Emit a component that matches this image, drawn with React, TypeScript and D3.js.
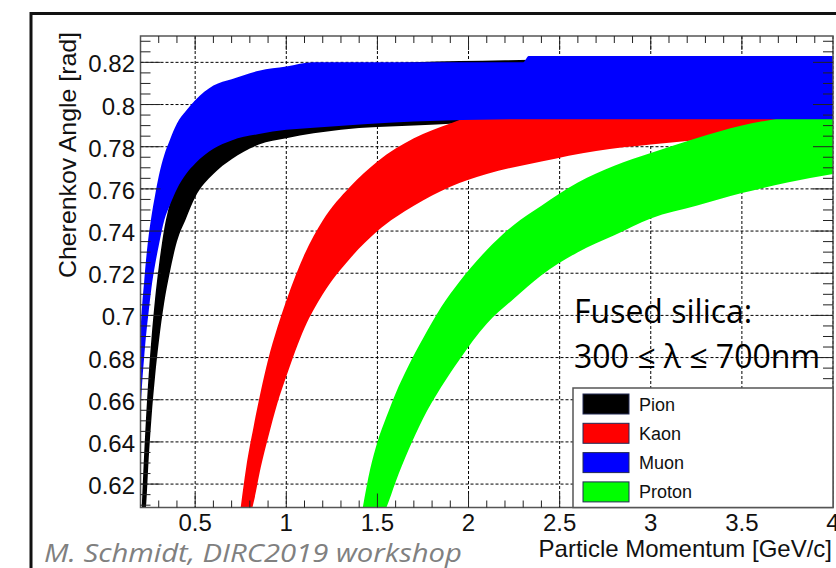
import React, { useEffect, useRef } from "react";
import * as d3 from "d3";

// momentum (GeV/c) and upper / lower edge of the Cherenkov angle band (rad)
const pionP = [0.207, 0.215, 0.23, 0.245, 0.26, 0.28, 0.3, 0.33, 0.36, 0.4, 0.45, 0.5, 0.6, 0.7, 0.85, 1.0, 1.3, 1.7, 2.2, 3.0, 4.0];
const pionHi = [0.609, 0.625, 0.651, 0.672, 0.689, 0.708, 0.723, 0.741, 0.753, 0.767, 0.778, 0.786, 0.798, 0.805, 0.811, 0.814, 0.818, 0.82, 0.821, 0.822, 0.822];
const pionLo = [0.6, 0.6, 0.609, 0.632, 0.651, 0.671, 0.687, 0.706, 0.72, 0.735, 0.746, 0.756, 0.767, 0.774, 0.781, 0.784, 0.788, 0.79, 0.792, 0.793, 0.793];

const muonP = [0.2, 0.21, 0.22, 0.23, 0.245, 0.26, 0.28, 0.3, 0.33, 0.36, 0.4, 0.45, 0.5, 0.6, 0.7, 0.85, 1.0, 1.15, 1.7, 2.3, 2.33, 3.0, 4.0];
const muonHi = [0.693, 0.706, 0.716, 0.726, 0.738, 0.747, 0.757, 0.766, 0.776, 0.783, 0.791, 0.797, 0.802, 0.809, 0.812, 0.816, 0.818, 0.82, 0.82, 0.82, 0.823, 0.823, 0.823];
const muonLo = [0.655, 0.669, 0.68, 0.69, 0.702, 0.713, 0.724, 0.733, 0.745, 0.752, 0.76, 0.767, 0.772, 0.779, 0.783, 0.786, 0.788, 0.789, 0.792, 0.793, 0.793, 0.793, 0.793];

const kaonP = [0.75, 0.78, 0.82, 0.86, 0.9, 0.95, 1.0, 1.1, 1.2, 1.35, 1.5, 1.7, 1.9, 2.1, 2.4, 2.7, 3.0, 3.4, 3.7, 4.0];
const kaonHi = [0.609, 0.628, 0.647, 0.664, 0.679, 0.694, 0.707, 0.729, 0.745, 0.761, 0.773, 0.784, 0.791, 0.797, 0.803, 0.808, 0.811, 0.813, 0.815, 0.816];
const kaonLo = [0.6, 0.6, 0.611, 0.628, 0.642, 0.658, 0.671, 0.694, 0.71, 0.727, 0.74, 0.752, 0.761, 0.767, 0.773, 0.778, 0.781, 0.784, 0.785, 0.787];

const protonP = [1.42, 1.46, 1.5, 1.55, 1.6, 1.67, 1.75, 1.85, 1.95, 2.1, 2.25, 2.4, 2.6, 2.8, 3.0, 3.25, 3.5, 3.75, 4.0];
const protonHi = [0.609, 0.627, 0.64, 0.652, 0.663, 0.676, 0.689, 0.704, 0.716, 0.731, 0.743, 0.752, 0.763, 0.771, 0.777, 0.784, 0.79, 0.794, 0.797];
const protonLo = [0.6, 0.6, 0.6, 0.609, 0.621, 0.636, 0.651, 0.666, 0.679, 0.696, 0.708, 0.719, 0.73, 0.738, 0.746, 0.752, 0.758, 0.763, 0.767];

const legendNames = ["Pion", "Kaon", "Muon", "Proton"];
const legendColors = ["#000000", "#ff0000", "#0000ff", "#00ff00"];

const xTicks = [0.5, 1, 1.5, 2, 2.5, 3, 3.5, 4];
const xTickLabels = ["0.5", "1", "1.5", "2", "2.5", "3", "3.5", "4"];
const yTicks = [0.62, 0.64, 0.66, 0.68, 0.7, 0.72, 0.74, 0.76, 0.78, 0.8, 0.82];
const yTickLabels = ["0.62", "0.64", "0.66", "0.68", "0.7", "0.72", "0.74", "0.76", "0.78", "0.8", "0.82"];

const W = 836;
const H = 568;
const ROOT_FONT = "'Liberation Sans', Arial, Helvetica, sans-serif";

const App: React.FC = () => {
  const svgRef = useRef<SVGSVGElement>(null);

  useEffect(() => {
    if (!svgRef.current) return;
    const svg = d3.select(svgRef.current);
    svg.selectAll("*").remove();

    const left = 140.5;
    const right = 833;
    const top = 36;
    const bottom = 507.5;

    const x = d3.scaleLinear().domain([0.2, 4]).range([left, right]);
    const y = d3.scaleLinear().domain([0.6089, 0.8325]).range([bottom, top]);

    svg.append("rect").attr("width", W).attr("height", H).attr("fill", "#fff");

    // slide frame
    svg
      .append("rect")
      .attr("x", 31)
      .attr("y", 13.5)
      .attr("width", 840)
      .attr("height", 600)
      .attr("fill", "none")
      .attr("stroke", "#111")
      .attr("stroke-width", 3);

    svg
      .append("clipPath")
      .attr("id", "plot-clip")
      .append("rect")
      .attr("x", left)
      .attr("y", top)
      .attr("width", right - left)
      .attr("height", bottom - top);

    // grid
    const grid = svg.append("g").attr("stroke", "#000").attr("stroke-width", 1).attr("stroke-dasharray", "3,2");
    xTicks.forEach((t) => {
      grid.append("line").attr("x1", x(t)).attr("x2", x(t)).attr("y1", top).attr("y2", bottom);
    });
    yTicks.forEach((t) => {
      grid.append("line").attr("x1", left).attr("x2", right).attr("y1", y(t)).attr("y2", y(t));
    });

    // bands
    const bands = svg.append("g").attr("clip-path", "url(#plot-clip)");
    const drawBand = (p: number[], hi: number[], lo: number[], color: string) => {
      const area = d3
        .area<number>()
        .x((i) => x(p[i]))
        .y0((i) => y(lo[i]))
        .y1((i) => y(hi[i]))
        .curve(d3.curveMonotoneX);
      bands.append("path").attr("d", area(d3.range(p.length)) || "").attr("fill", color);
    };
    drawBand(pionP, pionHi, pionLo, "#000000");
    drawBand(kaonP, kaonHi, kaonLo, "#ff0000");
    drawBand(protonP, protonHi, protonLo, "#00ff00");
    drawBand(muonP, muonHi, muonLo, "#0000ff");

    // frame
    svg
      .append("rect")
      .attr("x", left)
      .attr("y", top)
      .attr("width", right - left)
      .attr("height", bottom - top)
      .attr("fill", "none")
      .attr("stroke", "#555")
      .attr("stroke-width", 1.5);

    // ticks
    const ticks = svg.append("g").attr("stroke", "#222").attr("stroke-width", 1);
    d3.range(3, 40).forEach((k) => {
      const v = k / 10;
      const major = k % 5 === 0;
      const len = major ? 14 : 7;
      ticks.append("line").attr("x1", x(v)).attr("x2", x(v)).attr("y1", bottom).attr("y2", bottom - len);
      ticks.append("line").attr("x1", x(v)).attr("x2", x(v)).attr("y1", top).attr("y2", top + len);
    });
    d3.range(122, 167).forEach((k) => {
      const v = k / 200;
      if (v > 0.8325) return;
      const major = k % 4 === 0;
      const len = major ? 20 : 10;
      ticks.append("line").attr("x1", left).attr("x2", left + len).attr("y1", y(v)).attr("y2", y(v));
      ticks.append("line").attr("x1", right).attr("x2", right - len).attr("y1", y(v)).attr("y2", y(v));
    });

    // tick labels
    const labels = svg.append("g").style("font-family", ROOT_FONT).style("font-size", "24px").attr("fill", "#111");
    xTicks.forEach((t, i) => {
      labels
        .append("text")
        .attr("x", x(t))
        .attr("y", 531)
        .attr("text-anchor", i === xTicks.length - 1 ? "middle" : "middle")
        .text(xTickLabels[i]);
    });
    yTicks.forEach((t, i) => {
      labels
        .append("text")
        .attr("x", 135)
        .attr("y", y(t) + 10)
        .attr("text-anchor", "end")
        .text(yTickLabels[i]);
    });

    // axis titles
    svg
      .append("text")
      .attr("x", 832)
      .attr("y", 557)
      .attr("text-anchor", "end")
      .style("font-family", ROOT_FONT)
      .style("font-size", "24px")
      .attr("fill", "#111")
      .text("Particle Momentum [GeV/c]");

    svg
      .append("text")
      .attr("transform", "translate(75.5,155) rotate(-90)")
      .attr("text-anchor", "middle")
      .attr("textLength", 246)
      .attr("lengthAdjust", "spacingAndGlyphs")
      .style("font-family", ROOT_FONT)
      .style("font-size", "24px")
      .attr("fill", "#111")
      .text("Cherenkov Angle [rad]");

    // annotation
    const note = svg.append("g").style("font-family", "'Open Sans', sans-serif").style("font-size", "32px").attr("fill", "#000");
    note.append("text").attr("x", 574).attr("y", 323).text("Fused silica:");
    note.append("text").attr("x", 574).attr("y", 368).text("300 ≤ λ ≤ 700nm");

    // legend
    const lg = svg.append("g");
    lg.append("rect")
      .attr("x", 573)
      .attr("y", 388)
      .attr("width", right - 573)
      .attr("height", bottom - 388)
      .attr("fill", "#fff")
      .attr("stroke", "#555")
      .attr("stroke-width", 1.5);
    legendNames.forEach((name, i) => {
      const cy = 404 + i * 29.3;
      lg.append("rect")
        .attr("x", 583)
        .attr("y", cy - 10)
        .attr("width", 46)
        .attr("height", 20)
        .attr("fill", legendColors[i])
        .attr("stroke", "#222a55")
        .attr("stroke-width", 1);
      lg.append("text")
        .attr("x", 639)
        .attr("y", cy + 6.5)
        .style("font-family", ROOT_FONT)
        .style("font-size", "18px")
        .attr("fill", "#111")
        .text(name);
    });

    // credit
    svg
      .append("text")
      .attr("x", 44)
      .attr("y", 562)
      .attr("textLength", 418)
      .attr("lengthAdjust", "spacingAndGlyphs")
      .style("font-family", "'Open Sans', sans-serif")
      .style("font-style", "italic")
      .style("font-size", "26px")
      .attr("fill", "#808080")
      .text("M. Schmidt, DIRC2019 workshop");
  }, []);

  return <svg ref={svgRef} width={W} height={H} style={{ position: "absolute", left: 0, top: 0 }} />;
};

export default App;
